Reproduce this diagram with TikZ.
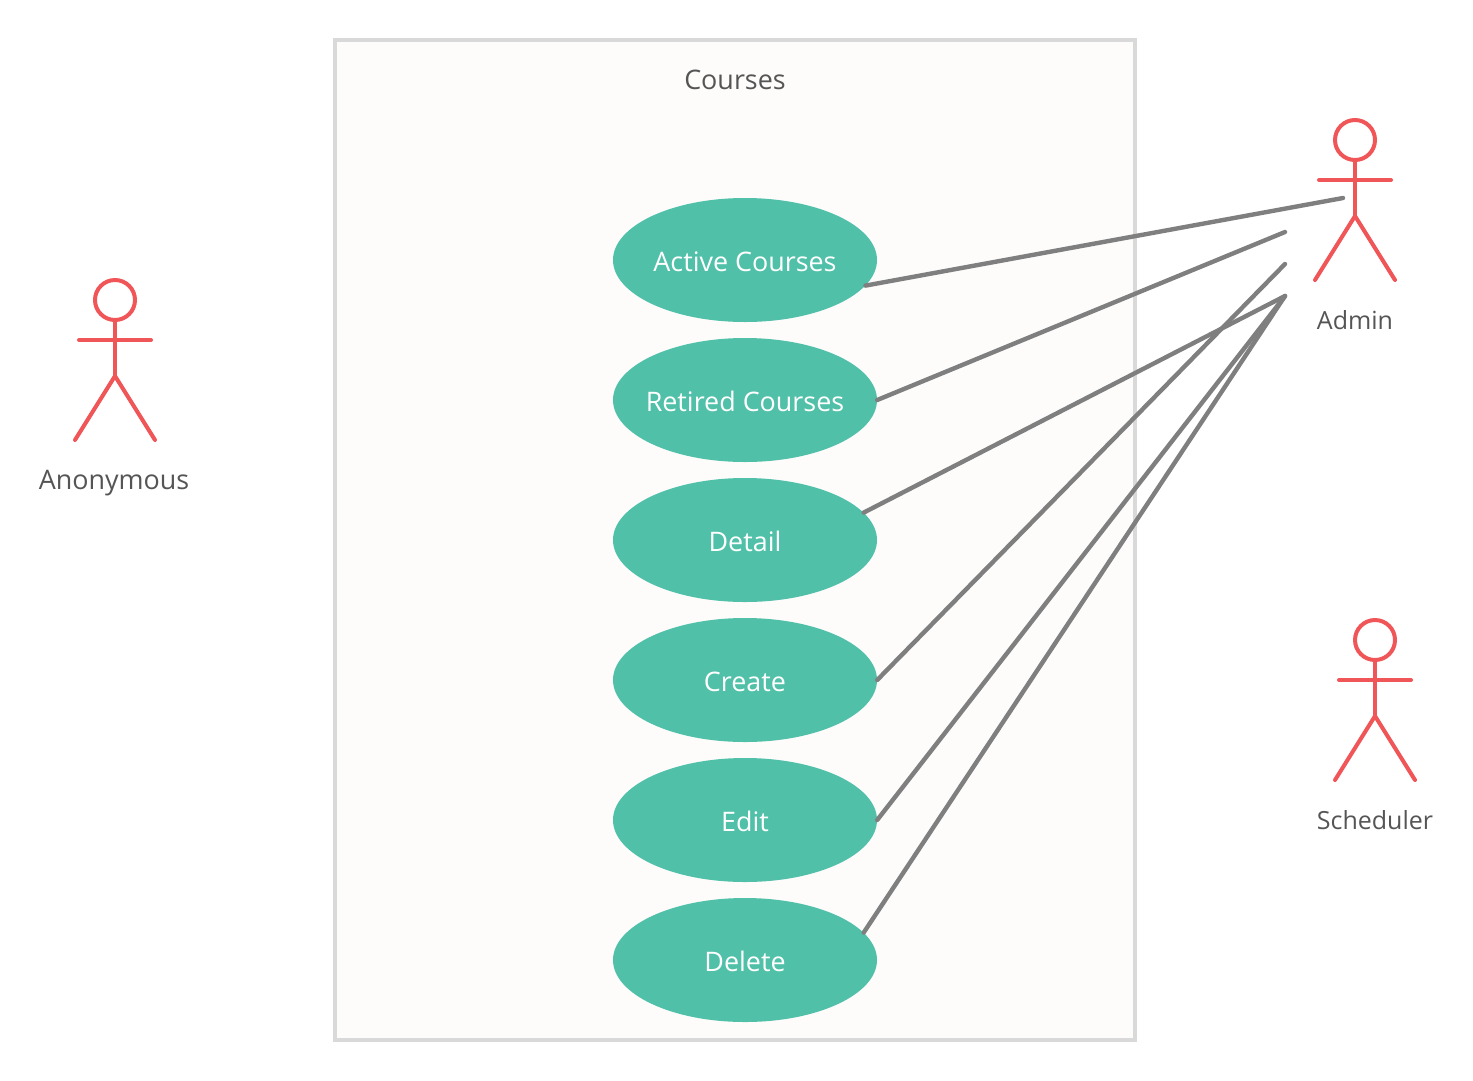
\documentclass[tikz,border=0pt]{standalone}
\usepackage{fontspec}
\setmainfont{Open Sans}
\usetikzlibrary{shapes.geometric}
\definecolor{usecasegreen}{HTML}{50C0A9}
\definecolor{actorred}{HTML}{F05558}
\definecolor{linkgray}{HTML}{7F7F7F}
\definecolor{boxgray}{HTML}{D9D9D9}
\definecolor{boxfill}{HTML}{FDFCFB}
\definecolor{labelgray}{HTML}{555555}
\tikzset{
	usecase/.style={ellipse, fill=usecasegreen, text=white, minimum width=264pt, minimum height=124pt, inner xsep=-20pt, inner ysep=0pt, text height=25pt, text depth=3pt, font=\fontsize{26.9}{30}\selectfont},
	link/.style={draw=linkgray, line width=4.4pt, line cap=round},
	actorline/.style={draw=actorred, line width=4pt, line cap=round},
	actorlabel/.style={anchor=base, inner sep=0pt, text=labelgray, font=\fontsize{25}{30}\selectfont},
	widelabel/.style={actorlabel, font=\fontsize{26.9}{30}\selectfont},
	actor/.pic={
		\draw[actorline] (0,-20) circle (20pt);
		\draw[actorline] (0,0) -- (0,56);
		\draw[actorline] (-36,20) -- (36,20);
		\draw[actorline] (-40,120) -- (0,56) -- (40,120);
	}
}
\begin{document}
\begin{tikzpicture}[x=1pt, y=-1pt]
	\useasboundingbox (0,0) rectangle (1473,1080);
	\node[draw=boxgray, fill=boxfill, line width=4pt, minimum width=800pt, minimum height=1000pt, inner sep=0pt] (courses) at (735,540) {};
	\node[widelabel] (coursestitle) at (735,89) {Courses};
	% use cases
	\node[usecase] (active) at (745,260) {Active Courses};
	\node[usecase] (retired) at (745,400) {Retired Courses};
	\node[usecase] (detail) at (745,540) {Detail};
	\node[usecase] (create) at (745,680) {Create};
	\node[usecase] (edit) at (745,820) {Edit};
	\node[usecase] (delete) at (745,960) {Delete};
	% actors
	\pic at (115,320) {actor};
	\node[widelabel] (anonymous) at (114,489) {Anonymous};
	\pic at (1355,160) {actor};
	\node[actorlabel] (admin) at (1355,329) {Admin};
	\pic at (1375,660) {actor};
	\node[actorlabel] (scheduler) at (1375,829) {Scheduler};
	% free ends near the admin actor
	\coordinate (adminA) at (1343,198);
	\coordinate (adminB) at (1285,232);
	\coordinate (adminC) at (1285,264);
	\coordinate (adminD) at (1285,296);
	\draw[link] (active.-12) -- (adminA);
	\draw[link] (retired.east) -- (adminB);
	\draw[link] (detail.13) -- (adminD);
	\draw[link] (create.east) -- (adminC);
	\draw[link] (edit.east) -- (adminD);
	\draw[link] (delete.13) -- (adminD);
\end{tikzpicture}
\end{document}
